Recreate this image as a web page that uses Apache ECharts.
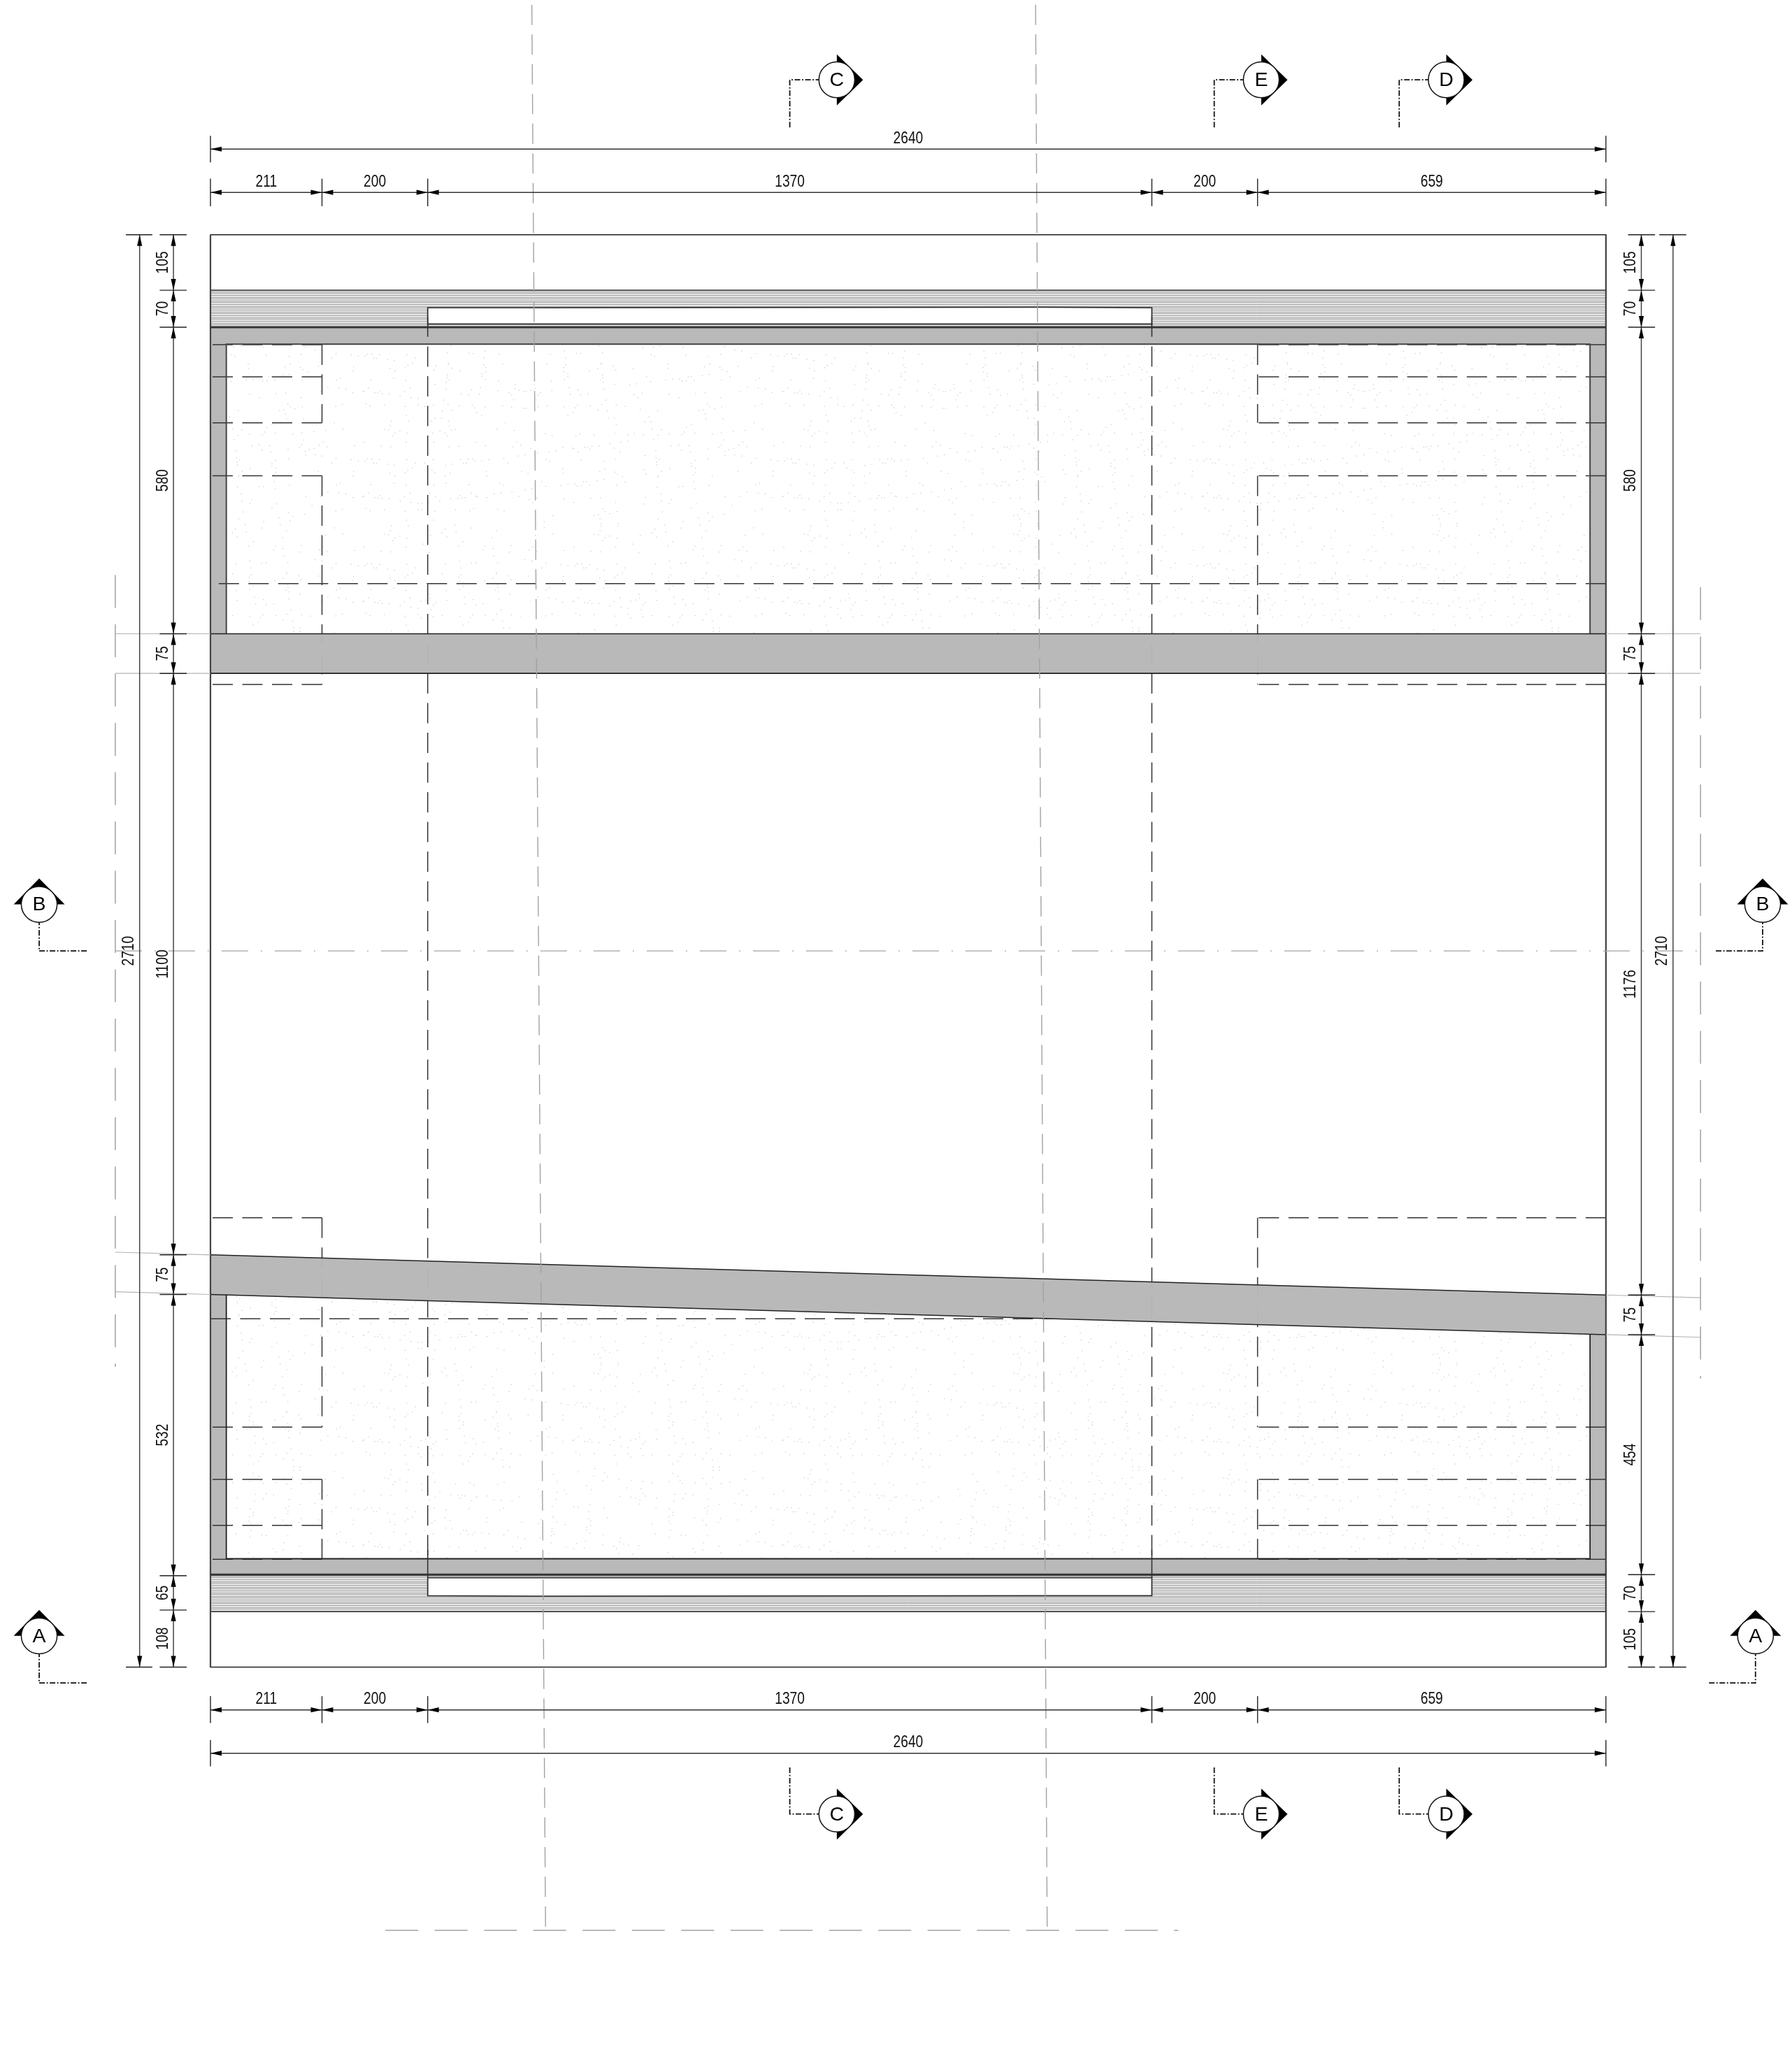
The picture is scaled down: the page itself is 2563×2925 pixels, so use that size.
<!DOCTYPE html>
<html><head><meta charset="utf-8">
<script src="https://cdn.jsdelivr.net/npm/echarts@6/dist/echarts.min.js"></script>
<style>html,body{margin:0;padding:0;background:#fff}#c{width:2563px;height:2925px}</style>
</head><body><div id="c"></div>
<script>
// ---- drawing values, in drawing units (x from the left wall, y from the top edge) ----
const widthDims = [211, 200, 1370, 200, 659];
const totalWidth = 2640;
const totalHeight = 2710;
const leftDims = [105, 70, 580, 75, 1100, 75, 532, 65, 108];
const rightDims = [105, 70, 580, 75, 1176, 75, 454, 70, 105];
const wallThickness = 30;
const topSlabInnerY = 207;
const bottomSlabInnerY = 2505;
const upperBand = [755, 830];
const slopedBandLeft = [1930, 2005];
const slopedBandRight = [2006, 2081];
const topHatchBand = [105, 175];
const bottomHatchBand = [2535, 2605];
const topRecess = [137, 169];
const bottomRecess = [2541, 2575];
const recessStep = [620, 1571];
const topRects = [[208, 356], [456, 851]];      // x=211 / x=1981 dashed verticals
const topRows = [208, 269, 356, 456, 851];
const bottomRects = [[1860, 2256], [2355, 2506]];
const bottomRows = [1860, 2256, 2355, 2442, 2506];
const longRowTop = 660;
const longRowBottom = 2051;
const longRowBottomEnd = 1598;
const gridA = [[608, -435], [634, 3208]];
const gridB = [[1561, -435], [1583, 3208]];
const gridBottomRow = { y: 3208, from: 331, to: 1831 };
const centreRow = { y: 1355, from: -180, to: 2819 };
const sideGridLeft = { x: -180, from: 644, to: 2142 };
const sideGridRight = { x: 2819, from: 667, to: 2164 };
const sectionsHoriz = [['C', 1185], ['E', 1988], ['D', 2338]];
const sectionRowTop = -293, sectionRowBottom = 2988;
const sectionsVert = [['B', -324, 1267, -234, 1355], ['A', -324, 2651, -234, 2740],
                      ['B', 2936.5, 1267, 2848, 1355], ['A', 2923, 2651, 2835, 2740]];
// stipple offsets of one cell, read from the slab texture
const stipple = [[50,5],[122,5],[127,25],[135,43],[152,40],[86,48],[55,57],[107,57],[117,68],[60,96],[126,116],[167,113],[239,96],[281,110],[20,185],[56,170],[110,195],[139,190],[173,170],[187,185],[199,185],[207,168],[225,167],[236,176],[265,175],[295,170],[32,207],[52,216],[63,226],[107,240],[129,228],[285,221],[287,240],[60,281],[112,272],[210,278],[42,314],[66,329],[85,348],[132,338],[162,337],[170,324],[181,334],[193,333],[221,313],[239,327],[245,329],[288,333],[318,317],[348,313],[8,358],[38,354],[7,385],[64,392],[153,385],[214,390],[231,380],[58,430],[333,383],[361,391],[398,115],[432,108],[420,155],[450,150],[360,165],[378,185],[436,220],[343,272],[358,280],[395,310],[425,328],[405,45],[330,40],[367,13],[415,95]];

// ---- style ----
const INK = '#222', DIM = '#333', CENTRE = '#a2a2a2';
const DASH = [29, 13.5];
const FONT = '"Liberation Sans",Arial,sans-serif';
const NARROW = 0.8;

const cum = a => a.reduce((r, v) => (r.push(r[r.length - 1] + v), r), [0]);
const xs = cum(widthDims), yL = cum(leftDims), yR = cum(rightDims);
const W = totalWidth, H = totalHeight, T = wallThickness;
const xA = xs[1], xB = xs[2], xC = xs[3], xD = xs[4];

// the texture tile: the same cell turned differently from place to place, so no repeat shows
const CELL = 150, CELLS = 4;
const tile = document.createElement('canvas');
tile.width = tile.height = CELL * CELLS;
const tc = tile.getContext('2d');
tc.fillStyle = '#fff'; tc.fillRect(0, 0, tile.width, tile.height);
tc.fillStyle = '#cdcdcd';
for (let i = 0; i < CELLS; i++) for (let j = 0; j < CELLS; j++) {
  const o = (i * 3 + j * 5 + i * j) % 8;
  stipple.forEach(p => {
    let a = p[0] / 3, b = p[1] / 3;
    if (o & 1) a = CELL - a;
    if (o & 2) b = CELL - b;
    if (o & 4) { const s = a; a = b; b = s; }
    tc.fillRect(i * CELL + a, j * CELL + b, 1.3, 1.3);
  });
}

const rect = (x0, y0, x1, y1) => [[x0, y0], [x1, y0], [x1, y1], [x0, y1]];
function layer(z, build) {
  return { type: 'custom', coordinateSystem: 'cartesian2d', z, silent: true, clip: false,
    data: [[0, 0]], animation: false,
    renderItem: (p, api) => ({ type: 'group', children: build(api) }) };
}
const series = [];
function line(points, color, width, dash, z) {
  series.push({ type: 'line', data: points, symbol: 'none', silent: true, animation: false, z: z || 5, clip: false,
    lineStyle: { color, width, type: dash || 'solid', cap: 'butt', join: 'miter' } });
}
const P = (api, pts, style) => ({ type: 'polygon', shape: { points: pts.map(p => api.coord(p)) }, style });

// fills below the hidden lines
series.push(layer(1, api => {
  const out = [];
  const patt = { image: tile, repeat: 'repeat' };
  out.push(P(api, rect(T, topSlabInnerY, W - T, upperBand[0]), { fill: patt }));
  out.push(P(api, [[T, slopedBandLeft[1]], [W - T, slopedBandRight[1]], [W - T, bottomSlabInnerY], [T, bottomSlabInnerY]], { fill: patt }));
  [topHatchBand, bottomHatchBand].forEach(b => {
    out.push(P(api, rect(0, b[0], W, b[1]), { fill: '#e6e6e6' }));
    const px0 = api.coord([0, b[0]]), px1 = api.coord([W, b[1]]);
    for (let y = px0[1] + 1.5; y < px1[1]; y += 2.65) {
      out.push({ type: 'line', shape: { x1: px0[0], y1: Math.round(y) + .5, x2: px1[0], y2: Math.round(y) + .5 },
        style: { stroke: '#a6a6a6', lineWidth: 1 } });
    }
  });
  out.push(P(api, rect(xB, topRecess[0], xC, topRecess[1]), { fill: '#fff' }));
  out.push(P(api, rect(xB, bottomRecess[0], xC, bottomRecess[1]), { fill: '#fff' }));
  return out;
}));

// hidden (dashed) lines: verticals pass under the concrete, rows run over the walls
topRects.forEach(r => { line([[xA, r[0]], [xA, r[1]]], DIM, 1.5, DASH, 2); line([[xD, r[0]], [xD, r[1]]], DIM, 1.5, DASH, 2); });
bottomRects.forEach(r => { line([[xA, r[0]], [xA, r[1]]], DIM, 1.5, DASH, 2); line([[xD, r[0]], [xD, r[1]]], DIM, 1.5, DASH, 2); });
topRows.concat(bottomRows).forEach(y => {
  line([[xA, y], [0, y]], DIM, 1.5, DASH, 4);
  line([[W, y], [xD, y]], DIM, 1.5, DASH, 4);
});
line([[W, longRowTop], [0, longRowTop]], DIM, 1.5, DASH, 4);
line([[0, longRowBottom], [longRowBottomEnd, longRowBottom]], DIM, 1.5, DASH, 2);
line([[0, longRowBottom], [T, longRowBottom]], DIM, 1.5, null, 4);
line([[xB, 155], [xB, yL[7]]], DIM, 1.5, DASH, 2);
line([[xC, 155], [xC, yL[7]]], DIM, 1.5, DASH, 2);

// concrete, slightly see-through like the plot
series.push(layer(3, api => {
  const f = { fill: 'rgba(183,183,183,0.97)' };
  return [
    rect(0, topHatchBand[1], W, topSlabInnerY),
    rect(0, topSlabInnerY, T, upperBand[0]),
    rect(W - T, topSlabInnerY, W, upperBand[0]),
    rect(0, upperBand[0], W, upperBand[1]),
    [[0, slopedBandLeft[0]], [W, slopedBandRight[0]], [W, slopedBandRight[1]], [0, slopedBandLeft[1]]],
    rect(0, slopedBandLeft[1], T, bottomSlabInnerY),
    rect(W - T, slopedBandRight[1], W, bottomSlabInnerY),
    rect(0, bottomSlabInnerY, W, bottomHatchBand[0])
  ].map(p => P(api, p, f));
}));

// solid outlines
line([[0, 0], [W, 0], [W, H], [0, H], [0, 0]], INK, 1.6, null, 4);
line([[0, 0], [0, H]], '#444', 2.2, null, 4);
line([[W, 0], [W, H]], '#444', 2.2, null, 4);
line([[0, topHatchBand[0]], [W, topHatchBand[0]]], '#444', 1.6, null, 4);
line([[0, topHatchBand[1]], [W, topHatchBand[1]]], '#333', 3, null, 4);
line([[0, bottomHatchBand[0]], [W, bottomHatchBand[0]]], '#333', 3, null, 4);
line([[0, bottomHatchBand[1]], [W, bottomHatchBand[1]]], '#444', 1.6, null, 4);
line([[T, upperBand[0]], [T, topSlabInnerY], [W - T, topSlabInnerY], [W - T, upperBand[0]]], '#444', 2, null, 4);
line([[0, upperBand[0]], [W, upperBand[0]]], INK, 1.5, null, 4);
line([[0, upperBand[1]], [W, upperBand[1]]], INK, 1.8, null, 4);
line([[0, slopedBandLeft[0]], [W, slopedBandRight[0]]], INK, 1.6, null, 4);
line([[0, slopedBandLeft[1]], [W, slopedBandRight[1]]], INK, 1.6, null, 4);
line([[T, slopedBandLeft[1]], [T, bottomSlabInnerY], [W - T, bottomSlabInnerY], [W - T, slopedBandRight[1]]], INK, 1.8, null, 4);
const rt = topRecess, rb = bottomRecess, st = recessStep;
line([[xB, rt[1]], [xB, rt[0] + 1], [st[0], rt[0] + 1], [st[0], rt[0]], [st[1], rt[0]], [st[1], rt[0] + 1], [xC, rt[0] + 1], [xC, rt[1]], [xB, rt[1]]], '#333', 1.8, null, 4);
line([[xB, rb[0]], [xC, rb[0]], [xC, rb[1]], [st[1], rb[1]], [st[1], rb[1] + 1], [st[0], rb[1] + 1], [st[0], rb[1]], [xB, rb[1]], [xB, rb[0]]], '#333', 1.8, null, 4);
line([[xB, rt[1]], [xB, 193]], '#333', 1.6, null, 4);
line([[xC, rt[1]], [xC, 193]], '#333', 1.6, null, 4);
line([[xB, 2488], [xB, rb[0]]], '#333', 1.6, null, 4);
line([[xC, 2488], [xC, rb[0]]], '#333', 1.6, null, 4);

// centre and grid lines
const CD = [29, 13.5], LD = [47, 23.5];
line(gridA, CENTRE, 1.4, CD, 6);
line(gridB, CENTRE, 1.4, CD, 6);
line([[gridBottomRow.from, gridBottomRow.y], [gridBottomRow.to, gridBottomRow.y]], CENTRE, 1.4, LD, 6);
line([[centreRow.from, centreRow.y], [centreRow.to, centreRow.y]], CENTRE, 1.4, [38, 18, 2, 18], 6);
line([[sideGridLeft.x, sideGridLeft.from], [sideGridLeft.x, sideGridLeft.to]], CENTRE, 1.5, LD, 6);
line([[sideGridRight.x, sideGridRight.from], [sideGridRight.x, sideGridRight.to]], CENTRE, 1.5, LD, 6);
[upperBand[0], upperBand[1]].forEach(y => {
  line([[sideGridLeft.x, y], [0, y]], '#b4b4b4', 1.2, null, 6);
  line([[W, y], [sideGridRight.x, y]], '#b4b4b4', 1.2, null, 6);
});
[0, 1].forEach(i => {
  line([[sideGridLeft.x, slopedBandLeft[i] - 5], [0, slopedBandLeft[i]]], '#b4b4b4', 1.2, null, 6);
  line([[W, slopedBandRight[i]], [sideGridRight.x, slopedBandRight[i] + 5]], '#b4b4b4', 1.2, null, 6);
});

// dimension chains
const chains = [];
function hChain(y, tickUp, tickDn, ticks, labels) { chains.push({ o: 'h', at: y, a: tickUp, b: tickDn, ticks, labels }); }
function vChain(x, a, b, ticks, labels) { chains.push({ o: 'v', at: x, a, b, ticks, labels }); }
hChain(-162, -187, -137, [0, W], [totalWidth]);
hChain(-80, -106, -54, xs, widthDims);
hChain(2791, 2765, 2816, xs, widthDims);
hChain(2873, 2848, 2898, [0, W], [totalWidth]);
vChain(-134, -160, -110, [0, H], [totalHeight]);
vChain(-70, -96, -45, yL, leftDims);
vChain(2707, 2682, 2733, yR, rightDims);
vChain(2767, 2741, 2792, [0, H], [totalHeight]);
chains.forEach(c => {
  const n = c.ticks.length - 1;
  const pt = v => c.o === 'h' ? [v, c.at] : [c.at, v];
  line([pt(c.ticks[0]), pt(c.ticks[n])], c.o === 'h' ? '#333' : '#444', 1.5, null, 7);
  c.ticks.forEach(t => line(c.o === 'h' ? [[t, c.a], [t, c.b]] : [[c.a, t], [c.b, t]], INK, 1.4, null, 7));
});
series.push(layer(8, api => {
  const out = [];
  const label = (text, x, y, rotation) => ({ type: 'text', x, y, rotation, scaleX: NARROW,
    style: { text: String(text), fontFamily: FONT, fontSize: 24, fill: '#111', align: 'center', verticalAlign: 'middle' } });
  chains.forEach(c => {
    const n = c.ticks.length - 1;
    for (let i = 0; i < n; i++) {
      const t0 = c.ticks[i], t1 = c.ticks[i + 1], mid = (t0 + t1) / 2;
      const a = api.coord(c.o === 'h' ? [t0, c.at] : [c.at, t0]);
      const b = api.coord(c.o === 'h' ? [t1, c.at] : [c.at, t1]);
      const L = 16, w = 3.6;
      if (c.o === 'h') {
        out.push({ type: 'polygon', shape: { points: [a, [a[0] + L, a[1] - w], [a[0] + L, a[1] + w]] }, style: { fill: '#000' } });
        out.push({ type: 'polygon', shape: { points: [b, [b[0] - L, b[1] - w], [b[0] - L, b[1] + w]] }, style: { fill: '#000' } });
        const m = api.coord([mid, c.at]);
        out.push(label(c.labels[i], m[0], m[1] - 15, 0));
      } else {
        out.push({ type: 'polygon', shape: { points: [a, [a[0] - w, a[1] + L], [a[0] + w, a[1] + L]] }, style: { fill: '#000' } });
        out.push({ type: 'polygon', shape: { points: [b, [b[0] - w, b[1] - L], [b[0] + w, b[1] - L]] }, style: { fill: '#000' } });
        const m = api.coord([c.at, mid]);
        out.push(label(c.labels[i], m[0] - 15, m[1], Math.PI / 2));
      }
    }
  });
  return out;
}));

// section markers
const LEADER = [8, 2.5, 2, 2.5];
const markers = [];
sectionsHoriz.forEach(s => {
  markers.push({ t: s[0], x: s[1], y: sectionRowTop, dir: 'r' });
  markers.push({ t: s[0], x: s[1], y: sectionRowBottom, dir: 'r' });
  line([[s[1] - 89, sectionRowTop + 90], [s[1] - 89, sectionRowTop], [s[1] - 32, sectionRowTop]], '#111', 1.8, LEADER, 8);
  line([[s[1] - 89, sectionRowBottom - 88], [s[1] - 89, sectionRowBottom], [s[1] - 32, sectionRowBottom]], '#111', 1.8, LEADER, 8);
});
sectionsVert.forEach(s => {
  markers.push({ t: s[0], x: s[1], y: s[2], dir: 'u' });
  line([[s[3], s[4]], [s[1], s[4]], [s[1], s[2] + 32]], '#111', 1.8, LEADER, 8);
});
series.push(layer(9, api => {
  const out = [];
  markers.forEach(m => {
    const c = api.coord([m.x, m.y]), cx = c[0], cy = c[1];
    const tri = m.dir === 'r'
      ? [[cx, cy - 36.5], [cx + 37.5, cy], [cx, cy + 36.5]]
      : [[cx - 36.5, cy], [cx, cy - 37], [cx + 36.5, cy]];
    out.push({ type: 'polygon', shape: { points: tri }, style: { fill: '#000' } });
    out.push({ type: 'circle', shape: { cx, cy, r: 25.6 }, style: { fill: '#fff', stroke: '#111', lineWidth: 1.5 } });
    out.push({ type: 'text', x: cx, y: cy + 1, style: { text: m.t, fontFamily: FONT, fontSize: 28.5, fill: '#000', align: 'center', verticalAlign: 'middle' } });
  });
  return out;
}));

const chart = echarts.init(document.getElementById('c'), null, { renderer: 'canvas' });
chart.setOption({
  animation: false,
  backgroundColor: '#ffffff',
  grid: { left: 0, right: 0, top: 0, bottom: 0, containLabel: false },
  xAxis: { type: 'value', min: -398.15, max: 2992.06, show: false },
  yAxis: { type: 'value', inverse: true, min: -444.05, max: 3424.97, show: false },
  series
});
</script></body></html>
